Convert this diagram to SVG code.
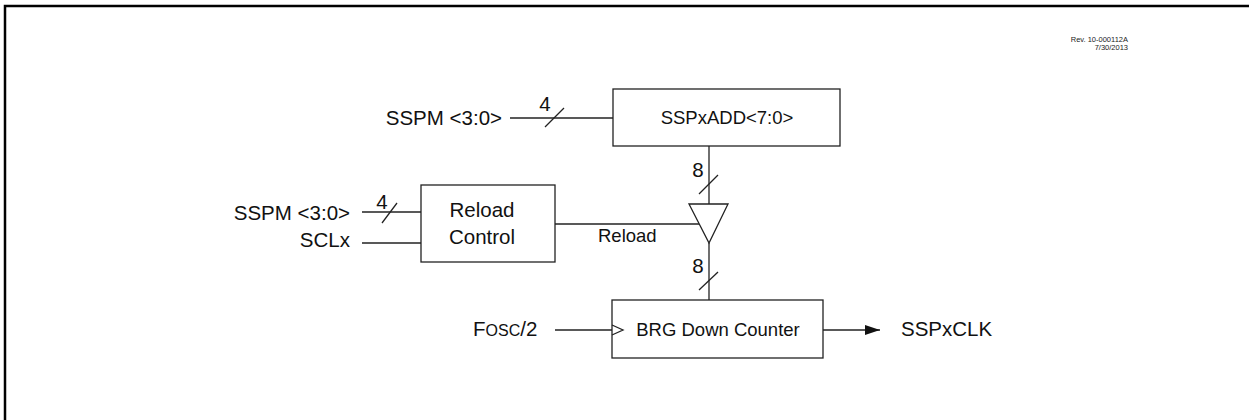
<svg xmlns="http://www.w3.org/2000/svg" width="1249" height="420" viewBox="0 0 1249 420">
<style>
.ln{stroke:#222;stroke-width:1.3;fill:none}
.bx{stroke:#222;stroke-width:1.3;fill:#fff}
.t{font-family:"Liberation Sans",Arial,sans-serif;fill:#111}
.big{font-size:20.5px}
.mid{font-size:18.5px}
.rev{font-size:7.5px;fill:#222}
</style>
<defs>
<marker id="arr" markerWidth="16" markerHeight="12" refX="15" refY="5" orient="auto" markerUnits="userSpaceOnUse">
<path d="M0,0 L15,5 L0,10 Z" fill="#111"/>
</marker>
</defs>
<rect width="1249" height="420" fill="#fff"/>
<path d="M5,420 V6 H1249" stroke="#000" stroke-width="2.5" fill="none"/>
<g id="rev">
<text class="t rev" x="1128" y="42" text-anchor="end">Rev. 10-000112A</text>
<text class="t rev" x="1128" y="50" text-anchor="end">7/30/2013</text>
</g>
<g id="connectors">
<line class="ln" x1="510" y1="118" x2="613" y2="118"/>
<line class="ln" x1="545" y1="127" x2="564" y2="108"/>
<line class="ln" x1="362" y1="212" x2="421" y2="212"/>
<line class="ln" x1="382" y1="223" x2="397" y2="203"/>
<line class="ln" x1="362" y1="243" x2="421" y2="243"/>
<line class="ln" x1="709" y1="146" x2="709" y2="204"/>
<line class="ln" x1="699" y1="194" x2="718" y2="175"/>
<line class="ln" x1="709" y1="243" x2="709" y2="300"/>
<line class="ln" x1="699" y1="290" x2="718" y2="272"/>
<line class="ln" x1="555" y1="224" x2="699" y2="224"/>
<line class="ln" x1="555" y1="330" x2="612" y2="330"/>
<line class="ln" x1="823" y1="330" x2="880" y2="330" marker-end="url(#arr)"/>
<text class="t big" x="545" y="111" text-anchor="middle">4</text>
<text class="t big" x="382" y="209" text-anchor="middle">4</text>
<text class="t big" x="698" y="177" text-anchor="middle">8</text>
<text class="t big" x="698" y="273" text-anchor="middle">8</text>
<text class="t mid" x="598" y="242">Reload</text>
</g>
<g id="in-sspm1"><text class="t big" x="502" y="125" text-anchor="end">SSPM &lt;3:0&gt;</text></g>
<g id="in-sspm2"><text class="t big" x="350" y="220" text-anchor="end">SSPM &lt;3:0&gt;</text></g>
<g id="in-sclx"><text class="t big" x="350" y="247" text-anchor="end">SCLx</text></g>
<g id="in-fosc"><text class="t big" x="473" y="336">F<tspan font-size="16px">OSC</tspan>/2</text></g>
<g id="out-clk"><text class="t big" x="901" y="336">SSPxCLK</text></g>
<g id="sspxadd">
<rect class="bx" x="613" y="89" width="227" height="57"/>
<text class="t mid" x="727" y="124" text-anchor="middle">SSPxADD&lt;7:0&gt;</text>
</g>
<g id="reload-control">
<rect class="bx" x="421" y="185" width="134" height="77"/>
<text class="t big" x="482" y="217" text-anchor="middle">Reload</text>
<text class="t big" x="482" y="244" text-anchor="middle">Control</text>
</g>
<g id="buffer">
<polygon class="bx" points="689,204 728,204 709,243"/>
</g>
<g id="brg">
<rect class="bx" x="612" y="300" width="211" height="58"/>
<polyline class="ln" points="612,325 623,330 612,335"/>
<text class="t mid" x="718" y="336" text-anchor="middle">BRG Down Counter</text>
</g>
</svg>
